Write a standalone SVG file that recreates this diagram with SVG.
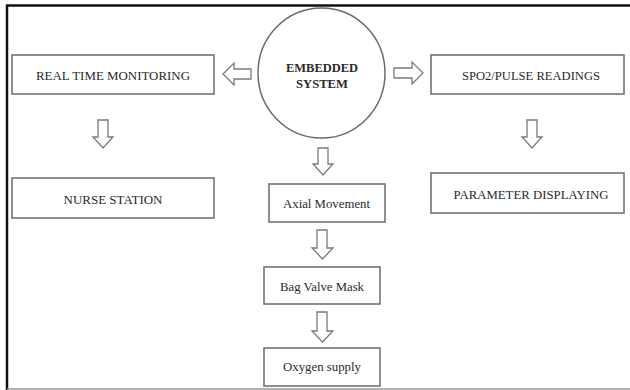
<svg xmlns="http://www.w3.org/2000/svg" width="630" height="390" viewBox="0 0 630 390">
<style>
.box{fill:#fff;stroke:#6a6a6a;stroke-width:1.5}
.arr{fill:#fff;stroke:#7a7a7a;stroke-width:1.3;stroke-linejoin:miter}
.t{font-family:"Liberation Serif","Times New Roman",serif;fill:#2a2a2a;text-anchor:middle}
.cap{font-size:13.5px}
.sm{font-size:13.5px}
.b{font-weight:bold;font-size:13.5px}
</style>
<rect x="0" y="0" width="630" height="390" fill="#fff"/>
<line x1="7" y1="5" x2="7" y2="390" stroke="#111" stroke-width="2.5"/>
<line x1="6" y1="5.5" x2="630" y2="5.5" stroke="#111" stroke-width="2.5"/>
<line x1="7" y1="389" x2="630" y2="389" stroke="#999" stroke-width="1.5"/>

<g id="embedded">
<ellipse cx="321.5" cy="73" rx="63.5" ry="65" class="box"/>
<text class="t b" x="322" y="72" textLength="72" lengthAdjust="spacingAndGlyphs">EMBEDDED</text>
<text class="t b" x="322" y="88" textLength="52" lengthAdjust="spacingAndGlyphs">SYSTEM</text>
</g>
<g id="rtm">
<rect x="12" y="55" width="202" height="39" class="box"/>
<text class="t cap" x="113" y="80" textLength="154" lengthAdjust="spacingAndGlyphs">REAL TIME MONITORING</text>
</g>
<g id="spo2">
<rect x="431" y="55" width="193" height="39" class="box"/>
<text class="t cap" x="531" y="80" textLength="138" lengthAdjust="spacingAndGlyphs">SPO2/PULSE READINGS</text>
</g>
<g id="nurse">
<rect x="12" y="178" width="202" height="40" class="box"/>
<text class="t cap" x="113" y="204" textLength="99" lengthAdjust="spacingAndGlyphs">NURSE STATION</text>
</g>
<g id="param">
<rect x="431" y="173" width="193" height="40" class="box"/>
<text class="t cap" x="531" y="199" textLength="155" lengthAdjust="spacingAndGlyphs">PARAMETER DISPLAYING</text>
</g>
<g id="axial">
<rect x="269" y="184" width="116" height="38" class="box"/>
<text class="t sm" x="326.5" y="208" textLength="87" lengthAdjust="spacingAndGlyphs">Axial Movement</text>
</g>
<g id="bvm">
<rect x="264" y="267" width="116" height="37" class="box"/>
<text class="t sm" x="322" y="291" textLength="84" lengthAdjust="spacingAndGlyphs">Bag Valve Mask</text>
</g>
<g id="oxygen">
<rect x="264" y="348" width="116" height="38" class="box"/>
<text class="t sm" x="322" y="371" textLength="78" lengthAdjust="spacingAndGlyphs">Oxygen supply</text>
</g>

<g id="connectors">
<polygon class="arr" points="251,69 234,69 234,63 223,74 234,85 234,79 251,79"/>
<polygon class="arr" points="394,68 412,68 412,62 423,73 412,84 412,78 394,78"/>
<polygon class="arr" points="98,120 108,120 108,137 113,137 103,148 93,137 98,137"/>
<polygon class="arr" points="527,120 537,120 537,137 542,137 532,148 522,137 527,137"/>
<polygon class="arr" points="318,148 328,148 328,164 333,164 323,175 313,164 318,164"/>
<polygon class="arr" points="317,230 327,230 327,248 333,248 322.5,259 312,248 317,248"/>
<polygon class="arr" points="317,312 327,312 327,331 333,331 322.5,342 312,331 317,331"/>
</g>
</svg>
